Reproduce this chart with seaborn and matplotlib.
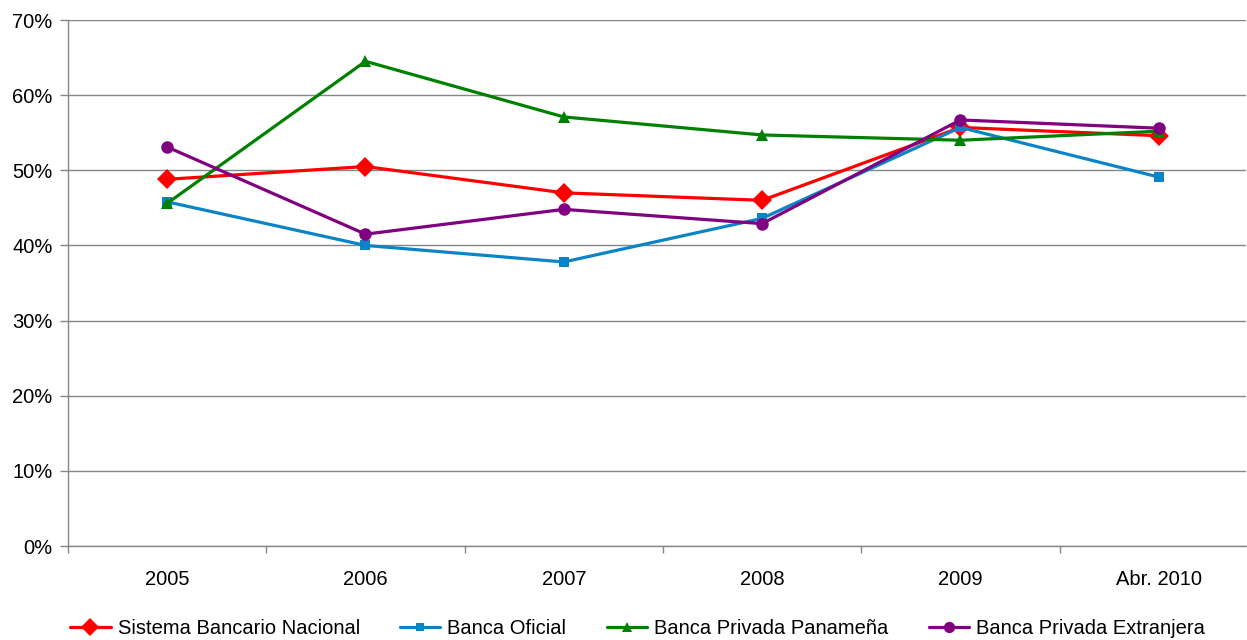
import numpy as np
import pandas as pd
import matplotlib
matplotlib.use("Agg")
import matplotlib.pyplot as plt
import seaborn as sns
from matplotlib.ticker import FuncFormatter, FixedLocator

periodos = ["2005", "2006", "2007", "2008", "2009", "Abr. 2010"]
series = ["Sistema Bancario Nacional", "Banca Oficial",
          "Banca Privada Panameña", "Banca Privada Extranjera"]

sistema_nacional = [48.8, 50.5, 47.0, 46.0, 55.7, 54.6]
banca_oficial = [45.8, 40.0, 37.8, 43.6, 55.7, 49.1]
privada_panamena = [45.6, 64.5, 57.1, 54.7, 54.0, 55.2]
privada_extranjera = [53.1, 41.5, 44.8, 42.9, 56.7, 55.6]

valores = [sistema_nacional, banca_oficial, privada_panamena, privada_extranjera]

df = pd.DataFrame({
    "periodo": np.tile(np.arange(len(periodos)), len(series)),
    "valor": np.concatenate(valores) / 100.0,
    "serie": np.repeat(series, len(periodos)),
})

colores = {
    "Sistema Bancario Nacional": "#FF0000",
    "Banca Oficial": "#0A84C6",
    "Banca Privada Panameña": "#008000",
    "Banca Privada Extranjera": "#800080",
}
marcadores = {
    "Sistema Bancario Nacional": "D",
    "Banca Oficial": "s",
    "Banca Privada Panameña": "^",
    "Banca Privada Extranjera": "o",
}
tamanos = {
    "Sistema Bancario Nacional": 10,
    "Banca Oficial": 7,
    "Banca Privada Panameña": 8,
    "Banca Privada Extranjera": 9,
}

sns.set_theme(style="white")
plt.rcParams["font.family"] = ["Liberation Sans", "DejaVu Sans"]
plt.rcParams["text.color"] = "black"
plt.rcParams["xtick.color"] = "black"
plt.rcParams["ytick.color"] = "black"

fig = plt.figure(figsize=(12.47, 6.40), dpi=100)
ax = fig.add_axes([68 / 1247, 1 - 546 / 640, (1246 - 68) / 1247, (546 - 20) / 640])

sns.lineplot(data=df, x="periodo", y="valor", hue="serie", style="serie",
             palette=colores, markers=marcadores, dashes=False,
             hue_order=series, style_order=series,
             linewidth=2.3, markeredgewidth=0, ax=ax, legend=False)

# per-series marker sizes
for line, s in zip(ax.get_lines(), series):
    line.set_markersize(tamanos[s])
    line.set_markeredgecolor(colores[s])

ax.set_xlim(-0.5, 5.44)
ax.set_ylim(0, 0.70)
ax.set_yticks(np.arange(0, 0.71, 0.10))
ax.yaxis.set_major_formatter(FuncFormatter(lambda v, p: f"{v * 100:.0f}%"))
ax.set_xticks(range(len(periodos)))
ax.set_xticklabels(periodos)
ax.xaxis.set_minor_locator(FixedLocator(np.arange(-0.5, 5.5, 1.0)))

ax.grid(axis="y", color="#868686", linewidth=1.0)
ax.set_axisbelow(True)
for side in ["top", "right"]:
    ax.spines[side].set_visible(False)
for side in ["left", "bottom"]:
    ax.spines[side].set_color("#868686")
    ax.spines[side].set_linewidth(1.0)

ax.tick_params(axis="y", which="major", length=6, width=1, color="#868686",
               labelcolor="black", direction="out", labelsize=14.5, pad=5,
               left=True)
ax.tick_params(axis="x", which="major", length=0, labelsize=14.5, pad=17,
               labelcolor="black")
ax.tick_params(axis="x", which="minor", length=5, width=1, color="#868686",
               direction="out", bottom=True)
ax.set_xlabel("")
ax.set_ylabel("")

handles = [plt.Line2D([], [], color=colores[s], marker=marcadores[s],
                      markersize=tamanos[s] * 0.9, linewidth=2.3,
                      markeredgewidth=0) for s in series]
fig.legend(handles, series, loc="center", bbox_to_anchor=(637.5 / 1247, 1 - 629 / 640),
           ncol=4, frameon=False, fontsize=14.5, handlelength=2.0,
           handletextpad=0.35, columnspacing=2.0)

fig.savefig("out.png", dpi=100)
